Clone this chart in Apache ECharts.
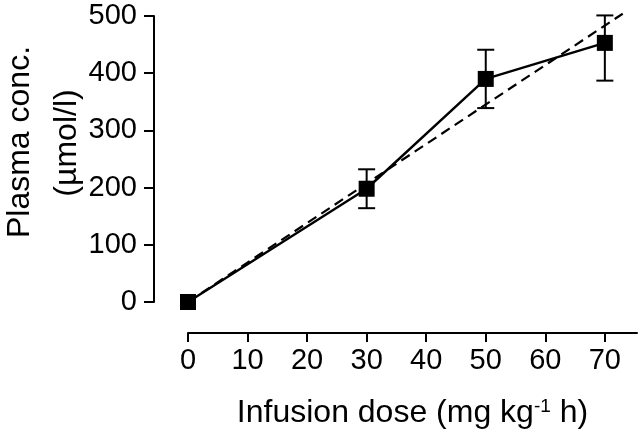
<!DOCTYPE html>
<html><head><meta charset="utf-8">
<script src="https://cdn.jsdelivr.net/npm/echarts@6/dist/echarts.min.js"></script>
<style>html,body{margin:0;padding:0;background:#fff}#c{width:640px;height:444px}</style>
</head><body><div id="c"></div>
<script>
const doses = [0, 30, 50, 70];
const meanConc = [0, 198, 390, 453];
const errLow = [0, 164, 339, 387];
const errHigh = [0, 232, 441, 501];
const fitLine = [[0, 0], [73, 504]];
const xTicks = [0, 10, 20, 30, 40, 50, 60, 70];
const yTicks = [0, 100, 200, 300, 400, 500];

const FONT = 'Liberation Sans, Arial, sans-serif';
const chart = echarts.init(document.getElementById('c'), null, {renderer: 'canvas'});
const errData = doses.map((d, i) => [d, errLow[i], errHigh[i]]).filter(e => e[2] > e[1]);

chart.setOption({
  animation: false,
  backgroundColor: '#fff',
  grid: {left: 188, width: 449, top: 16, height: 286, containLabel: false},
  xAxis: {
    type: 'value', min: 0, max: 75.4, interval: 10, offset: 31,
    axisLine: {show: true, onZero: false, lineStyle: {color: '#000', width: 2}},
    axisTick: {show: true, length: 9, lineStyle: {color: '#000', width: 2}},
    axisLabel: {margin: 13, color: '#000', fontSize: 29, fontFamily: FONT,
      showMaxLabel: false,
      formatter: v => xTicks.includes(v) ? String(v) : ''},
    splitLine: {show: false},
    name: 'Infusion dose (mg kg{sup|-1} h)',
    nameLocation: 'middle', nameGap: 64,
    nameTextStyle: {color: '#000', fontSize: 32, fontFamily: FONT,
      rich: {sup: {fontSize: 19, fontFamily: FONT, color: '#000', padding: [0, 0, 14, 0]}}}
  },
  yAxis: {
    type: 'value', min: 0, max: 500, interval: 100, offset: 34,
    axisLine: {show: true, onZero: false, lineStyle: {color: '#000', width: 2}},
    axisTick: {show: true, length: 10, lineStyle: {color: '#000', width: 2}},
    axisLabel: {margin: 17, color: '#000', fontSize: 29, fontFamily: FONT,
      formatter: v => yTicks.includes(v) ? String(v) : ''},
    splitLine: {show: false}
  },
  graphic: [
    {type: 'text', x: 20, y: 142, rotation: Math.PI / 2,
      style: {text: 'Plasma conc.', fill: '#000', font: '32px ' + FONT, textAlign: 'center', textVerticalAlign: 'middle'}},
    {type: 'text', x: 67, y: 143, rotation: Math.PI / 2,
      style: {text: '(\u00b5mol/l)', fill: '#000', font: '32px ' + FONT, textAlign: 'center', textVerticalAlign: 'middle'}}
  ],
  series: [
    {
      type: 'line', data: fitLine, clip: false, symbol: 'none', z: 2,
      lineStyle: {color: '#000', width: 2.2, type: [10, 6]}
    },
    {
      type: 'custom', clip: false, z: 3,
      data: errData,
      renderItem: function (params, api) {
        const x = api.value(0);
        const lo = api.coord([x, api.value(1)]);
        const hi = api.coord([x, api.value(2)]);
        const w = 8.5;
        const st = {stroke: '#000', lineWidth: 2, fill: 'none'};
        return {type: 'group', children: [
          {type: 'line', shape: {x1: lo[0], y1: lo[1], x2: hi[0], y2: hi[1]}, style: st},
          {type: 'line', shape: {x1: lo[0] - w, y1: lo[1], x2: lo[0] + w, y2: lo[1]}, style: st},
          {type: 'line', shape: {x1: hi[0] - w, y1: hi[1], x2: hi[0] + w, y2: hi[1]}, style: st}
        ]};
      }
    },
    {
      type: 'line', data: doses.map((d, i) => [d, meanConc[i]]), clip: false, z: 4,
      symbol: 'rect', symbolSize: 16,
      itemStyle: {color: '#000'},
      lineStyle: {color: '#000', width: 2.4}
    }
  ]
});
</script></body></html>
